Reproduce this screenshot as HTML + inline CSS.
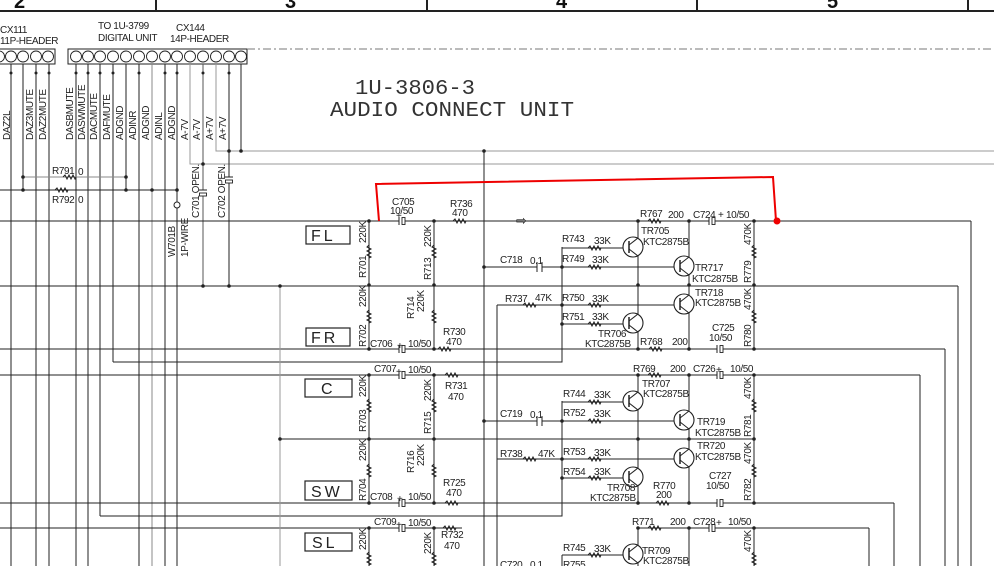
<!DOCTYPE html>
<html><head><meta charset="utf-8"><style>
html,body{margin:0;padding:0;background:#fff;}
svg{display:block;}
text{font-family:"Liberation Sans",sans-serif;font-size:10px;fill:#222;letter-spacing:-0.4px;}
text.big{font-family:"Liberation Mono",monospace;font-size:21px;fill:#333;letter-spacing:0}
text.col{font-size:20px;font-weight:bold;fill:#111}
text.lbl{font-size:16px;letter-spacing:3px;fill:#222}
</style></head><body>
<svg width="994" height="566" viewBox="0 0 994 566" xmlns="http://www.w3.org/2000/svg">
<defs>
<path id="rh" d="M-7,0 l2,-2 l2,4 l2,-4 l2,4 l2,-4 l2,4 l1,-2" fill="none" stroke="#222" stroke-width="1"/>
<path id="rv" d="M0,-7 l-2,2 l4,2 l-4,2 l4,2 l-4,2 l4,2 l-2,1" fill="none" stroke="#222" stroke-width="1"/>
<g id="cap"><rect x="-3" y="-4" width="6" height="8" fill="#fff"/><line x1="-3" y1="-4" x2="-3" y2="4" stroke="#222"/><rect x="0" y="-3.5" width="3" height="7" fill="none" stroke="#222" stroke-width="0.9"/></g>
<g id="tr"><circle r="10" fill="#fff" stroke="#222" stroke-width="1.1"/><line x1="-4" y1="-6" x2="-4" y2="6" stroke="#222" stroke-width="1.5"/><line x1="-4" y1="-2" x2="5" y2="-9" stroke="#222"/><line x1="-4" y1="2" x2="5" y2="9" stroke="#222"/></g>
</defs>
<g stroke="#222" stroke-width="1" fill="none">
<line x1="0" y1="11" x2="994" y2="11" stroke-width="2"/>
<line x1="156" y1="0" x2="156" y2="11" stroke-width="2"/>
<line x1="427" y1="0" x2="427" y2="11" stroke-width="2"/>
<line x1="697" y1="0" x2="697" y2="11" stroke-width="2"/>
<line x1="968" y1="0" x2="968" y2="11" stroke-width="2"/>
<rect x="-2" y="49" width="57" height="15"/>
<rect x="68" y="49" width="179" height="15"/>
<line x1="247" y1="49" x2="994" y2="49" stroke="#777" stroke-dasharray="8,3,2,3"/>
<g stroke-width="0.9">
<circle cx="-1" cy="56.5" r="5.5"/><circle cx="11" cy="56.5" r="5.5"/><circle cx="23" cy="56.5" r="5.5"/><circle cx="36" cy="56.5" r="5.5"/><circle cx="48" cy="56.5" r="5.5"/>
<circle cx="76" cy="56.5" r="5.5"/><circle cx="88" cy="56.5" r="5.5"/><circle cx="100" cy="56.5" r="5.5"/><circle cx="113" cy="56.5" r="5.5"/><circle cx="126" cy="56.5" r="5.5"/><circle cx="139" cy="56.5" r="5.5"/><circle cx="152" cy="56.5" r="5.5"/><circle cx="165" cy="56.5" r="5.5"/><circle cx="177" cy="56.5" r="5.5"/><circle cx="190" cy="56.5" r="5.5"/><circle cx="203" cy="56.5" r="5.5"/><circle cx="216" cy="56.5" r="5.5"/><circle cx="229" cy="56.5" r="5.5"/><circle cx="241" cy="56.5" r="5.5"/>
</g>
<line x1="11" y1="64" x2="11" y2="566"/>
<line x1="23" y1="64" x2="23" y2="190"/>
<line x1="36" y1="64" x2="36" y2="566"/>
<line x1="49" y1="64" x2="49" y2="566"/>
<line x1="76" y1="64" x2="76" y2="566"/>
<line x1="88" y1="64" x2="88" y2="566"/>
<line x1="100" y1="64" x2="100" y2="516"/>
<line x1="113" y1="64" x2="113" y2="362"/>
<line x1="126" y1="64" x2="126" y2="190"/>
<line x1="139" y1="64" x2="139" y2="566"/>
<line x1="152" y1="64" x2="152" y2="566" stroke="#888"/>
<line x1="165" y1="64" x2="165" y2="566"/>
<line x1="177" y1="64" x2="177" y2="566"/>
<path d="M190,64 V164 H994" stroke="#999"/>
<line x1="203" y1="64" x2="203" y2="286" stroke="#555"/>
<path d="M216,64 V151 H994" stroke="#999"/>
<line x1="229" y1="64" x2="229" y2="286"/>
<line x1="241" y1="64" x2="241" y2="151"/>
<line x1="23" y1="177" x2="126" y2="177" stroke="#888"/>
<line x1="0" y1="190" x2="177" y2="190"/>
<line x1="0" y1="221" x2="971" y2="221"/><line x1="971" y1="221" x2="971" y2="566"/>
<line x1="0" y1="286" x2="958" y2="286"/><line x1="958" y1="286" x2="958" y2="566"/>
<line x1="0" y1="349" x2="945" y2="349"/><line x1="945" y1="349" x2="945" y2="566"/>
<path d="M113,362 H562 V247"/>
<line x1="0" y1="375" x2="920" y2="375"/><line x1="920" y1="375" x2="920" y2="566"/>
<line x1="280" y1="439" x2="754" y2="439"/>
<line x1="0" y1="503" x2="894" y2="503"/><line x1="894" y1="503" x2="894" y2="566"/>
<path d="M100,516 H562 V401"/>
<line x1="0" y1="528" x2="462" y2="528"/><line x1="638" y1="528" x2="869" y2="528"/><line x1="869" y1="528" x2="869" y2="566"/>
<line x1="280" y1="286" x2="280" y2="566" stroke="#999"/>
<line x1="484" y1="151" x2="484" y2="566"/>
<line x1="497" y1="305" x2="497" y2="566"/>
</g>
<g fill="#222">
<circle cx="23" cy="177" r="1.8"/><circle cx="126" cy="177" r="1.8"/><circle cx="23" cy="190" r="1.8"/><circle cx="126" cy="190" r="1.8"/><circle cx="152" cy="190" r="1.8"/><circle cx="177" cy="190" r="1.8"/>
<circle cx="203" cy="164" r="1.8"/><circle cx="229" cy="151" r="1.8"/><circle cx="241" cy="151" r="1.8"/>
<circle cx="203" cy="286" r="1.8"/><circle cx="229" cy="286" r="1.8"/><circle cx="280" cy="286" r="1.8"/><circle cx="280" cy="439" r="1.8"/>
<circle cx="484" cy="151" r="1.8"/>
<circle cx="36" cy="73" r="1.5"/><circle cx="49" cy="73" r="1.5"/><circle cx="76" cy="73" r="1.5"/><circle cx="88" cy="73" r="1.5"/><circle cx="100" cy="73" r="1.5"/><circle cx="113" cy="73" r="1.5"/><circle cx="139" cy="73" r="1.5"/><circle cx="165" cy="73" r="1.5"/><circle cx="177" cy="73" r="1.5"/><circle cx="203" cy="73" r="1.5"/><circle cx="229" cy="73" r="1.5"/><circle cx="11" cy="73" r="1.5"/>
</g>
<use href="#rh" x="70" y="177"/><use href="#rh" x="62" y="190"/>
<circle cx="177" cy="205" r="3" fill="#fff" stroke="#222"/>
<g transform="translate(203,193) rotate(90)"><use href="#cap"/></g>
<g transform="translate(229,180) rotate(90)"><use href="#cap"/></g>

<text x="0" y="33">CX111</text><text x="0" y="44">11P-HEADER</text>
<text x="98" y="29">TO 1U-3799</text><text x="98" y="41">DIGITAL UNIT</text>
<text x="176" y="31">CX144</text><text x="170" y="42">14P-HEADER</text>
<text class="col" x="14" y="8">2</text><text class="col" x="285" y="8">3</text><text class="col" x="556" y="8">4</text><text class="col" x="827" y="8">5</text>
<text transform="translate(10,140) rotate(-90)">DAZ2L</text>
<text transform="translate(33,140) rotate(-90)">DAZ3MUTE</text>
<text transform="translate(46,140) rotate(-90)">DAZ2MUTE</text>
<text transform="translate(73,140) rotate(-90)">DASBMUTE</text>
<text transform="translate(85,140) rotate(-90)">DASWMUTE</text>
<text transform="translate(97,140) rotate(-90)">DACMUTE</text>
<text transform="translate(110,140) rotate(-90)">DAFMUTE</text>
<text transform="translate(123,140) rotate(-90)">ADGND</text>
<text transform="translate(136,140) rotate(-90)">ADINR</text>
<text transform="translate(149,140) rotate(-90)">ADGND</text>
<text transform="translate(162,140) rotate(-90)">ADINL</text>
<text transform="translate(175,140) rotate(-90)">ADGND</text>
<text transform="translate(188,140) rotate(-90)">A-7V</text>
<text transform="translate(200,140) rotate(-90)">A-7V</text>
<text transform="translate(213,140) rotate(-90)">A+7V</text>
<text transform="translate(226,140) rotate(-90)">A+7V</text>
<text transform="translate(199,218) rotate(-90)">C701 OPEN.</text>
<text transform="translate(225,218) rotate(-90)">C702 OPEN.</text>
<text transform="translate(175,257) rotate(-90)">W701B</text>
<text transform="translate(188,257) rotate(-90)">1P-WIRE</text>
<text x="52" y="174">R791</text><text x="78" y="175">0</text>
<text x="52" y="203">R792</text><text x="78" y="203">0</text>
<text class="big" x="355" y="94" textLength="120" lengthAdjust="spacingAndGlyphs">1U-3806-3</text>
<text class="big" x="330" y="116" textLength="244" lengthAdjust="spacingAndGlyphs">AUDIO CONNECT UNIT</text>

<g fill="none" stroke="#222" stroke-width="1.2">
<rect x="306" y="226" width="44" height="18"/><rect x="306" y="328" width="44" height="18"/>
<rect x="305" y="379" width="47" height="18"/><rect x="305" y="481" width="47" height="19"/>
<rect x="305" y="533" width="47" height="18"/>
</g>
<text class="lbl" x="311" y="241">FL</text><text class="lbl" x="311" y="343">FR</text><text class="lbl" x="321" y="394">C</text><text class="lbl" x="311" y="497">SW</text><text class="lbl" x="312" y="548">SL</text>

<g transform="translate(0,221)">
<g stroke="#222" fill="none">
<line x1="369" y1="0" x2="369" y2="128"/><line x1="434" y1="0" x2="434" y2="128"/>
<line x1="638" y1="0" x2="638" y2="128"/><line x1="689" y1="0" x2="689" y2="128"/><line x1="754" y1="0" x2="754" y2="128"/>
<line x1="562" y1="27" x2="624" y2="27"/><line x1="484" y1="46" x2="675" y2="46"/>
<line x1="497" y1="84" x2="675" y2="84"/><line x1="562" y1="103" x2="624" y2="103"/>
</g>
<use href="#rv" x="369" y="31"/><use href="#rv" x="369" y="96"/><use href="#rv" x="434" y="31"/><use href="#rv" x="434" y="96"/>
<use href="#rv" x="754" y="31"/><use href="#rv" x="754" y="96"/>
<use href="#rh" x="460" y="0"/><use href="#rh" x="655" y="0"/><use href="#rh" x="445" y="128"/><use href="#rh" x="656" y="128"/>
<use href="#rh" x="595" y="27"/><use href="#rh" x="595" y="46"/><use href="#rh" x="595" y="84"/><use href="#rh" x="595" y="103"/><use href="#rh" x="530" y="84"/>
<use href="#cap" x="402" y="0"/><use href="#cap" x="402" y="128"/><use href="#cap" x="712" y="0"/><use href="#cap" x="720" y="128"/>
<g><rect x="537" y="42" width="5" height="8" fill="#fff"/><line x1="537" y1="41" x2="537" y2="51" stroke="#222"/><line x1="542" y1="41" x2="542" y2="51" stroke="#222"/></g>
<use href="#tr" x="633" y="26"/><use href="#tr" x="684" y="45"/><use href="#tr" x="684" y="83"/><use href="#tr" x="633" y="102"/>
<g fill="#222"><circle cx="369" cy="0" r="1.8"/><circle cx="434" cy="0" r="1.8"/><circle cx="369" cy="64" r="1.8"/><circle cx="434" cy="64" r="1.8"/><circle cx="369" cy="128" r="1.8"/><circle cx="434" cy="128" r="1.8"/>
<circle cx="638" cy="0" r="1.8"/><circle cx="689" cy="0" r="1.8"/><circle cx="754" cy="0" r="1.8"/><circle cx="638" cy="64" r="1.8"/><circle cx="689" cy="64" r="1.8"/><circle cx="754" cy="64" r="1.8"/><circle cx="638" cy="128" r="1.8"/><circle cx="689" cy="128" r="1.8"/><circle cx="754" cy="128" r="1.8"/>
<circle cx="562" cy="46" r="1.8"/><circle cx="562" cy="84" r="1.8"/><circle cx="562" cy="103" r="1.8"/><circle cx="484" cy="46" r="1.8"/></g>
<text x="392" y="-16">C705</text><text x="390" y="-7">10/50</text><text x="396" y="-2">+</text>
<text x="450" y="-14">R736</text><text x="452" y="-5">470</text>
<text x="516" y="4" style="font-size:13px">⇨</text>
<text x="640" y="-4">R767</text><text x="668" y="-3">200</text><text x="693" y="-3">C724</text><text x="718" y="-3">+</text><text x="726" y="-3">10/50</text>
<text x="641" y="13">TR705</text><text x="643" y="24">KTC2875B</text>
<text x="562" y="21">R743</text><text x="594" y="23">33K</text>
<text x="500" y="42">C718</text><text x="530" y="43">0.1</text>
<text x="562" y="41">R749</text><text x="592" y="42">33K</text>
<text x="695" y="50">TR717</text><text x="692" y="61">KTC2875B</text>
<text x="505" y="81">R737</text><text x="535" y="80">47K</text>
<text x="562" y="80">R750</text><text x="592" y="81">33K</text>
<text x="695" y="75">TR718</text><text x="695" y="85">KTC2875B</text>
<text x="562" y="99">R751</text><text x="592" y="99">33K</text>
<text x="598" y="116">TR706</text><text x="585" y="126">KTC2875B</text>
<text x="640" y="124">R768</text><text x="672" y="124">200</text>
<text x="712" y="110">C725</text><text x="709" y="120">10/50</text>
<text transform="translate(366,22) rotate(-90)">220K</text><text transform="translate(366,57) rotate(-90)">R701</text>
<text transform="translate(366,86) rotate(-90)">220K</text><text transform="translate(366,126) rotate(-90)">R702</text>
<text transform="translate(431,26) rotate(-90)">220K</text><text transform="translate(431,59) rotate(-90)">R713</text>
<text transform="translate(414,98) rotate(-90)">R714</text><text transform="translate(424,91) rotate(-90)">220K</text>
<text x="370" y="126">C706</text><text x="397" y="128">+</text><text x="408" y="126">10/50</text>
<text x="443" y="114">R730</text><text x="446" y="124">470</text>
<text transform="translate(751,24) rotate(-90)">470K</text><text transform="translate(751,62) rotate(-90)">R779</text>
<text transform="translate(751,89) rotate(-90)">470K</text><text transform="translate(751,126) rotate(-90)">R780</text>
</g>

<g transform="translate(0,375)">
<g stroke="#222" fill="none">
<line x1="369" y1="0" x2="369" y2="128"/><line x1="434" y1="0" x2="434" y2="128"/>
<line x1="638" y1="0" x2="638" y2="128"/><line x1="689" y1="0" x2="689" y2="128"/><line x1="754" y1="0" x2="754" y2="128"/>
<line x1="562" y1="27" x2="624" y2="27"/><line x1="484" y1="46" x2="675" y2="46"/>
<line x1="497" y1="84" x2="675" y2="84"/><line x1="562" y1="103" x2="624" y2="103"/>
</g>
<use href="#rv" x="369" y="31"/><use href="#rv" x="369" y="96"/><use href="#rv" x="434" y="31"/><use href="#rv" x="434" y="96"/>
<use href="#rv" x="754" y="31"/><use href="#rv" x="754" y="96"/>
<use href="#rh" x="452" y="0"/><use href="#rh" x="655" y="0"/><use href="#rh" x="452" y="128"/><use href="#rh" x="663" y="128"/>
<use href="#rh" x="595" y="27"/><use href="#rh" x="595" y="46"/><use href="#rh" x="595" y="84"/><use href="#rh" x="595" y="103"/><use href="#rh" x="530" y="84"/>
<use href="#cap" x="402" y="0"/><use href="#cap" x="402" y="128"/><use href="#cap" x="720" y="0"/><use href="#cap" x="720" y="128"/>
<g><rect x="537" y="42" width="5" height="8" fill="#fff"/><line x1="537" y1="41" x2="537" y2="51" stroke="#222"/><line x1="542" y1="41" x2="542" y2="51" stroke="#222"/></g>
<use href="#tr" x="633" y="26"/><use href="#tr" x="684" y="45"/><use href="#tr" x="684" y="83"/><use href="#tr" x="633" y="102"/>
<g fill="#222"><circle cx="369" cy="0" r="1.8"/><circle cx="434" cy="0" r="1.8"/><circle cx="369" cy="64" r="1.8"/><circle cx="434" cy="64" r="1.8"/><circle cx="369" cy="128" r="1.8"/><circle cx="434" cy="128" r="1.8"/>
<circle cx="638" cy="0" r="1.8"/><circle cx="689" cy="0" r="1.8"/><circle cx="754" cy="0" r="1.8"/><circle cx="638" cy="64" r="1.8"/><circle cx="689" cy="64" r="1.8"/><circle cx="754" cy="64" r="1.8"/><circle cx="638" cy="128" r="1.8"/><circle cx="689" cy="128" r="1.8"/><circle cx="754" cy="128" r="1.8"/>
<circle cx="562" cy="46" r="1.8"/><circle cx="562" cy="84" r="1.8"/><circle cx="562" cy="103" r="1.8"/><circle cx="484" cy="46" r="1.8"/></g>
<text x="374" y="-3">C707</text><text x="396" y="0">+</text><text x="408" y="-2">10/50</text>
<text x="445" y="14">R731</text><text x="448" y="25">470</text>
<text x="633" y="-3">R769</text><text x="670" y="-3">200</text><text x="693" y="-3">C726</text><text x="716" y="-2">+</text><text x="730" y="-3">10/50</text>
<text x="642" y="12">TR707</text><text x="643" y="22">KTC2875B</text>
<text x="563" y="22">R744</text><text x="594" y="23">33K</text>
<text x="500" y="42">C719</text><text x="530" y="43">0.1</text>
<text x="563" y="41">R752</text><text x="594" y="42">33K</text>
<text x="697" y="50">TR719</text><text x="695" y="61">KTC2875B</text>
<text x="500" y="82">R738</text><text x="538" y="82">47K</text>
<text x="563" y="80">R753</text><text x="594" y="81">33K</text>
<text x="697" y="74">TR720</text><text x="695" y="85">KTC2875B</text>
<text x="563" y="100">R754</text><text x="594" y="100">33K</text>
<text x="607" y="116">TR708</text><text x="590" y="126">KTC2875B</text>
<text x="653" y="114">R770</text><text x="656" y="123">200</text>
<text x="709" y="104">C727</text><text x="706" y="114">10/50</text>
<text transform="translate(366,22) rotate(-90)">220K</text><text transform="translate(366,57) rotate(-90)">R703</text>
<text transform="translate(366,86) rotate(-90)">220K</text><text transform="translate(366,126) rotate(-90)">R704</text>
<text transform="translate(431,26) rotate(-90)">220K</text><text transform="translate(431,59) rotate(-90)">R715</text>
<text transform="translate(414,98) rotate(-90)">R716</text><text transform="translate(424,91) rotate(-90)">220K</text>
<text x="370" y="125">C708</text><text x="397" y="127">+</text><text x="408" y="125">10/50</text>
<text x="443" y="111">R725</text><text x="446" y="121">470</text>
<text transform="translate(751,24) rotate(-90)">470K</text><text transform="translate(751,62) rotate(-90)">R781</text>
<text transform="translate(751,89) rotate(-90)">470K</text><text transform="translate(751,126) rotate(-90)">R782</text>
</g>

<g transform="translate(0,528)">
<g stroke="#222" fill="none">
<line x1="369" y1="0" x2="369" y2="40"/><line x1="434" y1="0" x2="434" y2="40"/>
<line x1="638" y1="0" x2="638" y2="40"/><line x1="689" y1="0" x2="689" y2="40"/><line x1="754" y1="0" x2="754" y2="40"/>
<line x1="562" y1="27" x2="624" y2="27"/><line x1="484" y1="46" x2="675" y2="46"/>
<line x1="562" y1="27" x2="562" y2="40"/>
</g>
<use href="#rv" x="369" y="31"/><use href="#rv" x="434" y="31"/><use href="#rv" x="754" y="31"/>
<use href="#rh" x="450" y="0"/><use href="#rh" x="655" y="0"/><use href="#rh" x="595" y="27"/>
<use href="#cap" x="402" y="0"/><use href="#cap" x="712" y="0"/>
<use href="#tr" x="633" y="26"/>
<g fill="#222"><circle cx="369" cy="0" r="1.8"/><circle cx="434" cy="0" r="1.8"/><circle cx="638" cy="0" r="1.8"/><circle cx="689" cy="0" r="1.8"/><circle cx="754" cy="0" r="1.8"/></g>
<text x="374" y="-3">C709</text><text x="396" y="0">+</text><text x="408" y="-2">10/50</text>
<text x="441" y="10">R732</text><text x="444" y="21">470</text>
<text x="632" y="-3">R771</text><text x="670" y="-3">200</text><text x="693" y="-3">C728</text><text x="716" y="-2">+</text><text x="728" y="-3">10/50</text>
<text x="642" y="26">TR709</text><text x="643" y="36">KTC2875B</text>
<text x="563" y="23">R745</text><text x="594" y="24">33K</text>
<text x="500" y="40">C720</text><text x="530" y="40">0.1</text><text x="563" y="40">R755</text>
<text transform="translate(366,22) rotate(-90)">220K</text><text transform="translate(431,26) rotate(-90)">220K</text><text transform="translate(751,24) rotate(-90)">470K</text>
</g>

<path d="M379,221 L376,184 L773,177 L776,221" fill="none" stroke="#e00" stroke-width="2"/>
<circle cx="777" cy="221" r="3.5" fill="#e00"/>
</svg>
</body></html>
